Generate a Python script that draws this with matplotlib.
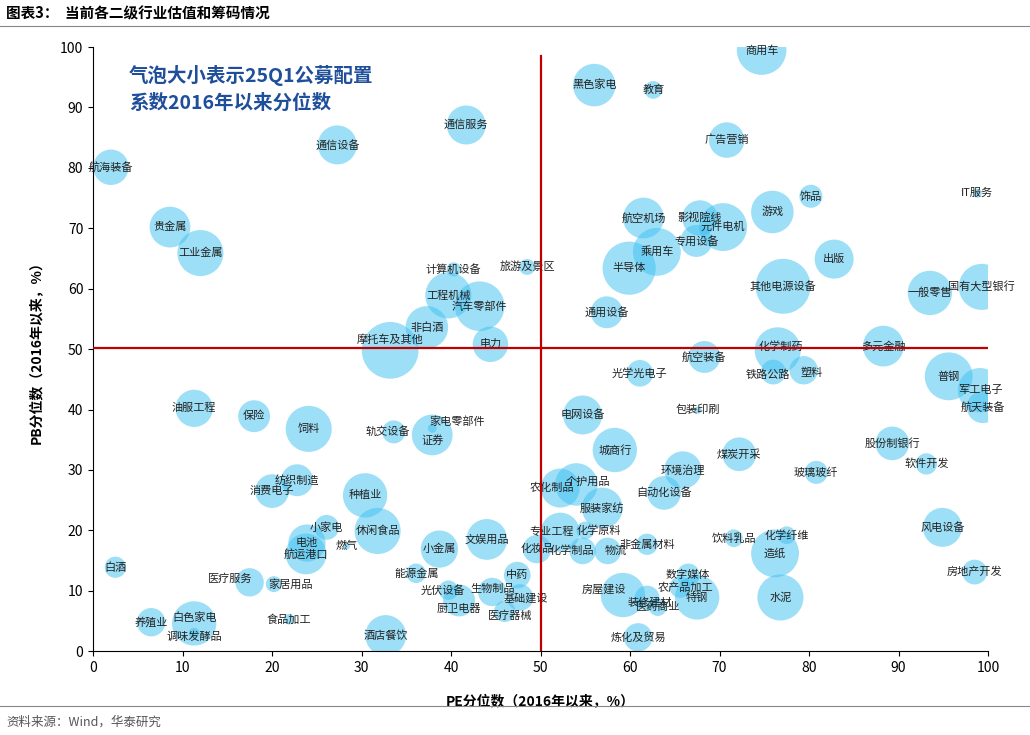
import numpy as np
import matplotlib
matplotlib.use('Agg')
import matplotlib.pyplot as plt

plt.rcParams['font.family'] = ['Noto Sans CJK SC', 'DejaVu Sans']

# industry, PE percentile, PB percentile, bubble size (allocation percentile, rough)
names = ['航海装备', '贵金属', '工业金属', '通信设备', '通信服务', '计算机设备', '旅游及景区', '工程机械',
         '汽车零部件', '非白酒', '摩托车及其他', '电力', '黑色家电', '教育', '商用车', '广告营销',
         '航空机场', '影视院线', '元件电机', '专用设备', '乘用车', '游戏', '饰品', 'IT服务', '出版',
         '半导体', '其他电源设备', '一般零售', '国有大型银行', '通用设备', '多元金融', '航空装备',
         '化学制药', '铁路公路', '塑料', '光学光电子', '普钢', '军工电子', '航天装备', '电网设备',
         '包装印刷', '股份制银行', '城商行', '煤炭开采', '软件开发', '环境治理', '玻璃玻纤', '农化制品',
         '个护用品', '自动化设备', '服装家纺', '专业工程', '化学原料', '风电设备', '化学制品', '物流',
         '非金属材料', '饮料乳品', '化学纤维', '造纸', '房地产开发', '数字媒体', '农产品加工', '房屋建设',
         '装修建材', '特钢', '医药商业', '水泥', '炼化及贸易', '化妆品', '油服工程', '保险', '饲料',
         '轨交设备', '证券', '家电零部件', '纺织制造', '消费电子', '种植业', '小家电', '电池', '航运港口',
         '燃气', '休闲食品', '小金属', '文娱用品', '白酒', '医疗服务', '家居用品', '能源金属', '光伏设备',
         '厨卫电器', '中药', '生物制品', '基础建设', '医疗器械', '养殖业', '白色家电', '调味发酵品',
         '食品加工', '酒店餐饮']
pe = [2.0, 8.6, 12.0, 27.3, 41.7, 40.3, 48.5, 39.7, 43.2, 37.3, 33.2, 44.4, 56.0, 62.6, 74.7, 70.8,
      61.5, 67.8, 70.4, 67.4, 63.0, 75.9, 80.2, 98.8, 82.8, 59.9, 77.1, 93.5, 99.3, 57.4, 88.3, 68.3,
      76.5, 76.0, 79.4, 61.1, 95.6, 99.1, 99.4, 54.7, 67.6, 89.3, 58.3, 72.2, 93.1, 65.9, 80.8, 52.2,
      54.0, 63.8, 56.9, 52.2, 55.0, 94.9, 54.7, 57.5, 61.9, 71.6, 77.5, 76.2, 98.5, 66.5, 65.6, 59.2,
      61.9, 67.5, 63.1, 76.8, 60.9, 49.6, 11.3, 18.0, 24.1, 33.6, 37.9, 37.9, 22.8, 20.0, 30.4, 26.1,
      23.9, 23.8, 28.3, 31.8, 38.7, 44.0, 2.5, 17.5, 20.2, 36.1, 39.7, 40.9, 47.4, 44.6, 47.7, 46.0,
      6.5, 11.3, 11.3, 21.9, 32.7]
pb = [80.1, 70.2, 65.9, 83.8, 87.1, 63.2, 63.6, 58.9, 57.1, 53.6, 49.8, 50.8, 93.7, 92.9, 99.5, 84.6,
      71.7, 71.7, 70.2, 67.9, 66.1, 72.7, 75.3, 75.8, 64.9, 63.4, 60.4, 59.3, 60.3, 56.1, 50.5, 48.7,
      49.8, 46.2, 46.5, 46.0, 45.5, 43.2, 40.4, 39.1, 39.9, 34.4, 33.3, 32.6, 31.0, 30.0, 29.6, 27.0,
      27.6, 26.2, 23.7, 19.7, 20.0, 20.5, 16.6, 16.6, 17.7, 18.7, 19.2, 16.2, 13.1, 12.6, 10.6, 9.3,
      8.8, 8.9, 7.3, 8.9, 2.3, 16.9, 40.2, 38.9, 36.8, 36.3, 35.8, 36.9, 28.3, 26.5, 25.8, 20.5,
      17.9, 16.1, 17.4, 19.9, 16.9, 18.5, 13.9, 11.4, 11.1, 12.9, 10.1, 8.4, 12.6, 9.8, 8.9, 6.6,
      4.8, 4.6, 3.0, 5.3, 2.6]
bsize = [20, 23, 26, 22, 22, 8, 9, 26, 28, 24, 32, 20, 24, 10, 28, 20,
         23, 20, 27, 18, 27, 24, 13, 5, 22, 30, 31, 25, 26, 18, 23, 18,
         26, 14, 16, 15, 27, 25, 18, 22, 4, 19, 25, 19, 12, 21, 13, 22,
         24, 19, 23, 22, 10, 22, 15, 15, 12, 10, 10, 27, 14, 13, 12, 25,
         14, 25, 10, 26, 16, 16, 21, 18, 26, 13, 23, 5, 18, 19, 25, 14,
         21, 23, 4, 26, 21, 23, 12, 16, 9, 11, 11, 18, 15, 16, 15, 12,
         16, 25, 6, 6, 23]

# label nudges in points, to spread out crowded names a little
nudge = {'摩托车及其他': (0, 8), '医疗服务': (-14, 3), '家居用品': (12, 0), '农化制品': (-6, 0),
         '个护用品': (8, 2), '化学制品': (-8, 0), '物流': (6, 0), '专业工程': (-6, 0), '化学原料': (10, 0),
         '房屋建设': (-14, 4), '装修建材': (2, -3), '农产品加工': (4, 0), '家电零部件': (18, 5),
         '证券': (0, -4), '轨交设备': (-4, 0), '白色家电': (0, 4), '调味发酵品': (0, -3),
         '光伏设备': (-4, 0), '厨卫电器': (0, -6), '生物制品': (0, 2), '医疗器械': (4, -3),
         '基础建设': (4, -1), '化学制药': (2, 3), '铁路公路': (-4, -2), '塑料': (6, -2)}

fig = plt.figure(figsize=(10.3, 7.35), dpi=100)
ax = fig.add_axes([0.0903, 0.114, 0.869, 0.822])

s = (np.array(bsize) * 0.72) ** 2 * np.pi
ax.scatter(pe, pb, s=s, color='#3CC0F0', alpha=0.5, linewidths=0, zorder=2)
for n, x, y in zip(names, pe, pb):
    dx, dy = nudge.get(n, (0, 0))
    ax.annotate(n, (x, y), xytext=(dx, dy), textcoords='offset points', fontsize=8,
                ha='center', va='center', color='#222222', zorder=3)

ax.plot([50, 50], [0, 98.5], color='#C00000', lw=1.6, zorder=4)
ax.plot([0, 100], [50.2, 50.2], color='#C00000', lw=1.6, zorder=4)

ax.text(4, 97, '气泡大小表示25Q1公募配置\n系数2016年以来分位数', fontsize=14, fontweight='bold',
        color='#1F4E9A', va='top', ha='left', linespacing=1.5)

ax.set_xlim(0, 100)
ax.set_ylim(0, 100)
ax.set_xticks(range(0, 101, 10))
ax.set_yticks(range(0, 101, 10))
ax.tick_params(direction='out', labelsize=10)
ax.spines['top'].set_visible(False)
ax.spines['right'].set_visible(False)
ax.set_xlabel('PE分位数（2016年以来，%）', fontsize=10, fontweight='bold', labelpad=14)
ax.set_ylabel('PB分位数（2016年以来，%）', fontsize=10, fontweight='bold', labelpad=12)

fig.text(0.006, 0.982, '图表3：  当前各二级行业估值和筹码情况', fontsize=10.5, fontweight='bold', va='center')
fig.add_artist(plt.Line2D([0.0, 1.0], [0.965, 0.965], color='#888888', lw=0.8))
fig.add_artist(plt.Line2D([0.0, 1.0], [0.04, 0.04], color='#888888', lw=0.8))
fig.text(0.006, 0.018, '资料来源：Wind，华泰研究', fontsize=9, color='#555555', va='center')

fig.savefig('out.png', dpi=100)
